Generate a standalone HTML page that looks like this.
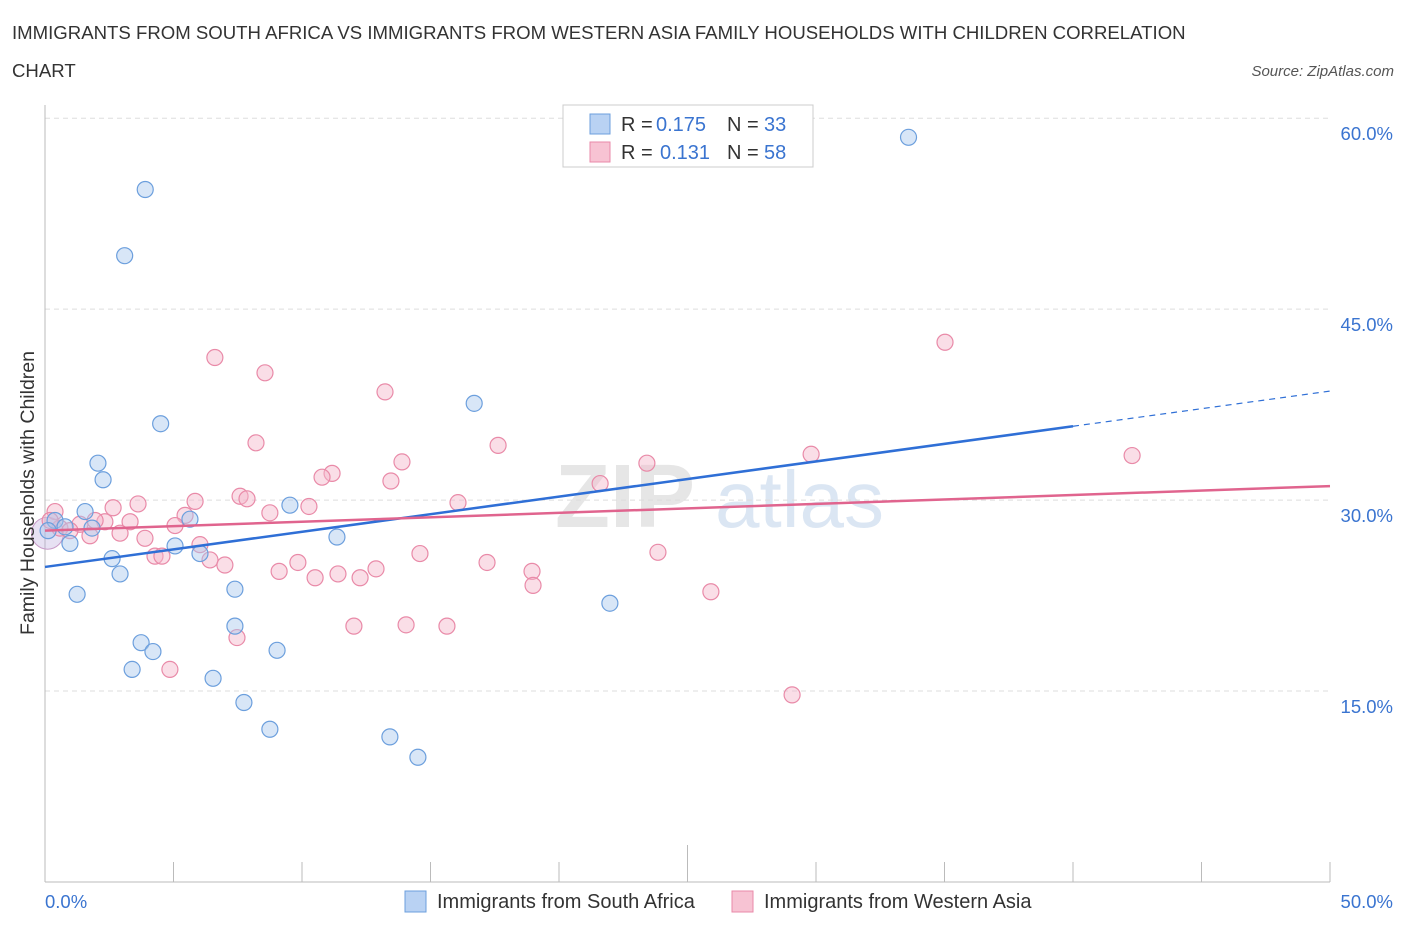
<!DOCTYPE html>
<html><head><meta charset="utf-8">
<style>
body{margin:0;background:#fff;font-family:"Liberation Sans",sans-serif;}
svg text{font-family:"Liberation Sans",sans-serif;}
</style></head>
<body>
<svg id="chart" width="1406" height="930" xmlns="http://www.w3.org/2000/svg">
<text x="12" y="39" font-size="18.6" fill="#333">IMMIGRANTS FROM SOUTH AFRICA VS IMMIGRANTS FROM WESTERN ASIA FAMILY HOUSEHOLDS WITH CHILDREN CORRELATION</text>
<text x="12" y="77" font-size="18.6" fill="#333">CHART</text>
<text x="1394" y="76" font-size="15" fill="#555" text-anchor="end" font-style="italic">Source: ZipAtlas.com</text>
<text x="555" y="527" font-size="90" fill="#e6e6e6" font-weight="bold">ZIP</text>
<text x="715" y="527" font-size="80" fill="#dbe6f3">atlas</text>
<g id="grid"></g>
<g id="axes"></g>
<g id="marks"></g>
<text transform="translate(34,493) rotate(-90)" font-size="19.5" fill="#333" text-anchor="middle">Family Households with Children</text>
<g>
<rect x="563" y="105" width="250" height="62" fill="#fff" stroke="#ccc"/>
<rect x="590" y="114" width="20" height="20" fill="#b9d2f3" stroke="#6c9fdd"/>
<text x="621" y="131" font-size="20" fill="#333">R =</text>
<text x="656" y="131" font-size="20" fill="#3a74d0">0.175</text>
<text x="727" y="131" font-size="20" fill="#333">N =</text>
<text x="764" y="131" font-size="20" fill="#3a74d0">33</text>
<rect x="590" y="142" width="20" height="20" fill="#f7c3d3" stroke="#e98aa8"/>
<text x="621" y="159" font-size="20" fill="#333">R =</text>
<text x="660" y="159" font-size="20" fill="#3a74d0">0.131</text>
<text x="727" y="159" font-size="20" fill="#333">N =</text>
<text x="764" y="159" font-size="20" fill="#3a74d0">58</text>
</g>
<g>
<rect x="405" y="891" width="21" height="21" fill="#b9d2f3" stroke="#6c9fdd"/>
<text x="437" y="908" font-size="20" fill="#333">Immigrants from South Africa</text>
<rect x="732" y="891" width="21" height="21" fill="#f7c3d3" stroke="#e98aa8"/>
<text x="764" y="908" font-size="20" fill="#333">Immigrants from Western Asia</text>
</g>
</svg>
<script>
const blueX=[3.9,3.1,33.6,4.5,16.7,2.06,2.26,1.56,0.39,0.78,1.83,0.97,5.64,9.53,11.36,5.06,6.03,2.61,2.92,1.25,7.39,21.98,7.39,3.74,4.2,9.03,3.39,6.54,7.74,8.75,13.42,14.51,0.12];
const blueY=[54.4,49.2,58.5,36.0,37.6,32.9,31.6,29.1,28.4,27.9,27.8,26.6,28.5,29.6,27.1,26.4,25.8,25.4,24.2,22.6,23.0,21.9,20.1,18.8,18.1,18.2,16.7,16.0,14.1,12.0,11.4,9.8,27.6];
const pinkX=[6.61,8.56,35.02,13.23,8.21,17.63,29.81,42.3,13.89,23.42,11.17,10.78,13.46,21.6,7.59,5.84,7.86,3.62,2.65,16.07,10.27,8.75,5.45,3.31,2.33,1.36,1.95,5.06,0.58,1.75,2.92,3.89,6.03,0.39,14.59,23.85,4.28,4.55,6.42,7.0,9.84,17.2,9.11,10.51,11.4,12.88,12.26,18.95,18.99,25.91,12.02,14.05,15.64,7.47,4.86,29.07,0.2,0.97];
const pinkY=[41.2,40.0,42.4,38.5,34.5,34.3,33.6,33.5,33.0,32.9,32.1,31.8,31.5,31.3,30.3,29.9,30.1,29.7,29.4,29.8,29.5,29.0,28.8,28.3,28.3,28.1,28.4,28.0,27.8,27.2,27.4,27.0,26.5,29.1,25.8,25.9,25.6,25.6,25.3,24.9,25.1,25.1,24.4,23.9,24.2,24.6,23.9,24.4,23.3,22.8,20.1,20.2,20.1,19.2,16.7,14.7,28.4,27.6];
const blueTrend=[24.75,35.8,40,50];
const pinkTrend=[27.6,31.1];
const yTicks=[15,30,45,60];
const yTickLabels=["15.0%","30.0%","45.0%","60.0%"];
const NS="http://www.w3.org/2000/svg";
const X=v=>45+v*25.7, Y=v=>882-v*12.73;
function mk(t,a,p){const e=document.createElementNS(NS,t);for(const k in a)e.setAttribute(k,a[k]);p.appendChild(e);return e;}
const grid=document.getElementById('grid'),axes=document.getElementById('axes'),marks=document.getElementById('marks');
yTicks.forEach((v,i)=>{
 const l=mk('line',{x1:45,x2:1330,y1:Y(v),y2:Y(v),stroke:'#ddd','stroke-dasharray':'5,4'},grid);
 
 
 const t=mk('text',{x:1393,y:Y(v)+22,'font-size':18.5,fill:'#3a74d0','text-anchor':'end'},axes);
 t.textContent=yTickLabels[i];
 
 
});
const ax=mk('line',{x1:45,x2:1330,y1:882,y2:882,stroke:'#bbb'},axes);


const ay=mk('line',{x1:45,x2:45,y1:105,y2:882,stroke:'#bbb'},axes);


for(let v=0;v<=50;v+=5){const tk=mk('line',{x1:X(v),x2:X(v),y1:v==25?845:862,y2:882,stroke:'#bbb'},axes);
 
 }
const x0=mk('text',{x:45,y:908,'font-size':18.5,fill:'#3a74d0'},axes);x0.textContent='0.0%';


const x1=mk('text',{x:1393,y:908,'font-size':18.5,fill:'#3a74d0','text-anchor':'end'},axes);x1.textContent='50.0%';


const big=mk('circle',{cx:X(0.1),cy:Y(27.4),r:16,fill:'rgba(185,170,220,0.35)',stroke:'#c89bc8'},marks);


pinkX.forEach((v,i)=>{const c=mk('circle',{cx:X(v),cy:Y(pinkY[i]),r:8,fill:'rgba(244,182,201,0.45)',stroke:'#e98aa8','stroke-width':1.2},marks);
 
 });
blueX.forEach((v,i)=>{const c=mk('circle',{cx:X(v),cy:Y(blueY[i]),r:8,fill:'rgba(169,199,238,0.45)',stroke:'#6c9fdd','stroke-width':1.2},marks);
 
 });
const bs=(blueTrend[1]-blueTrend[0])/blueTrend[2];
const bl=mk('line',{x1:X(0),y1:Y(blueTrend[0]),x2:X(blueTrend[2]),y2:Y(blueTrend[1]),stroke:'#2f6fd6','stroke-width':2.5},marks);


const bd=mk('line',{x1:X(blueTrend[2]),y1:Y(blueTrend[1]),x2:X(blueTrend[3]),y2:Y(blueTrend[0]+bs*blueTrend[3]),stroke:'#2f6fd6','stroke-width':1.2,'stroke-dasharray':'6,5'},marks);


const pl=mk('line',{x1:X(0),y1:Y(pinkTrend[0]),x2:X(50),y2:Y(pinkTrend[1]),stroke:'#e0648e','stroke-width':2.5},marks);


</script>
</body></html>
